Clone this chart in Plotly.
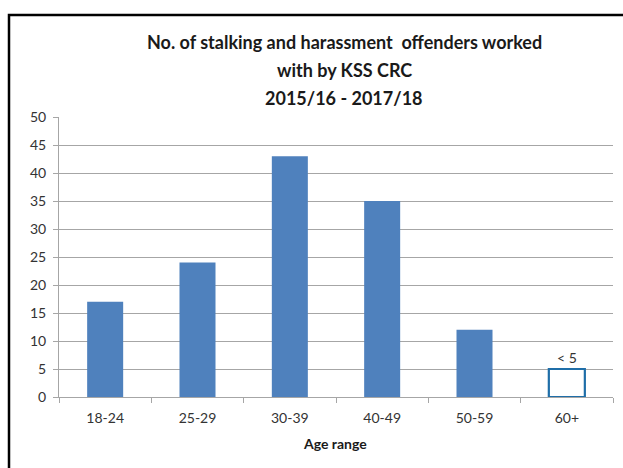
import plotly.graph_objects as go

# Offenders worked with, by age range
age_ranges = ["18-24", "25-29", "30-39", "40-49", "50-59", "60+"]
offenders = [17, 24, 43, 35, 12, 5]
bar_labels = ["", "", "", "", "", "< 5"]
suppressed = [False, False, False, False, False, True]

title_lines = [
    "No. of stalking and harassment  offenders worked",
    "with by KSS CRC",
    "2015/16 - 2017/18",
]

FILL = "#4F81BD"
OUTLINE = "#1F6EA8"
TEXT = "#333333"
GRID = "#A6A6A6"
FONT = "Lato"

fill_colors = ["white" if s else FILL for s in suppressed]
line_colors = [OUTLINE if s else FILL for s in suppressed]
line_widths = [2.2 if s else 0 for s in suppressed]

fig = go.Figure(
    go.Bar(
        x=age_ranges,
        y=offenders,
        text=bar_labels,
        textposition="outside",
        cliponaxis=False,
        textfont=dict(family=FONT, size=14, color=TEXT),
        marker=dict(color=fill_colors, line=dict(color=line_colors, width=line_widths)),
        hoverinfo="x+y",
    )
)

W, H = 623, 468
L, R, T, B = 59, 10, 117, 71
plot_h = H - T - B


def py(pix):
    # pixel row -> paper y
    return (H - B - pix) / plot_h


def px(pix):
    # pixel column -> paper x
    return (pix - L) / (W - L - R)


annotations = []
for i, line in enumerate(title_lines):
    annotations.append(
        dict(
            text=f"<b>{line}</b>",
            x=px(344), y=py(42 + 28 * i),
            xref="paper", yref="paper",
            xanchor="center", yanchor="middle",
            showarrow=False,
            font=dict(family=FONT, size=18, color="#1a1a1a"),
        )
    )

annotations.append(
    dict(
        text="<b>Age range</b>",
        x=px(335), y=py(443),
        xref="paper", yref="paper",
        xanchor="center", yanchor="middle",
        showarrow=False,
        font=dict(family=FONT, size=14, color="#1a1a1a"),
    )
)

# Frame around the whole chart (open on the right and bottom edges)
shapes = [
    dict(
        type="path",
        xref="paper", yref="paper",
        path=f"M {px(9)} {py(480)} L {px(9)} {py(15)} L {px(640)} {py(15)}",
        line=dict(color="black", width=2.5),
    )
]

fig.update_layout(
    width=W,
    height=H,
    margin=dict(l=L, r=R, t=T, b=B),
    paper_bgcolor="white",
    plot_bgcolor="white",
    showlegend=False,
    bargap=0.61,
    font=dict(family=FONT, size=14, color=TEXT),
    annotations=annotations,
    shapes=shapes,
    xaxis=dict(
        type="category",
        showline=True,
        linecolor=GRID,
        linewidth=1,
        ticks="outside",
        tickson="boundaries",
        ticklen=5,
        tickcolor=GRID,
        showgrid=False,
        ticklabelstandoff=8,
        tickfont=dict(family=FONT, size=14, color=TEXT),
    ),
    yaxis=dict(
        range=[0, 50],
        dtick=5,
        showline=True,
        linecolor=GRID,
        linewidth=1,
        ticks="outside",
        ticklen=5,
        tickcolor=GRID,
        showgrid=True,
        gridcolor=GRID,
        gridwidth=1,
        zeroline=False,
        ticklabelstandoff=4,
        tickfont=dict(family=FONT, size=14, color=TEXT),
    ),
)

fig.write_html("out.html")
